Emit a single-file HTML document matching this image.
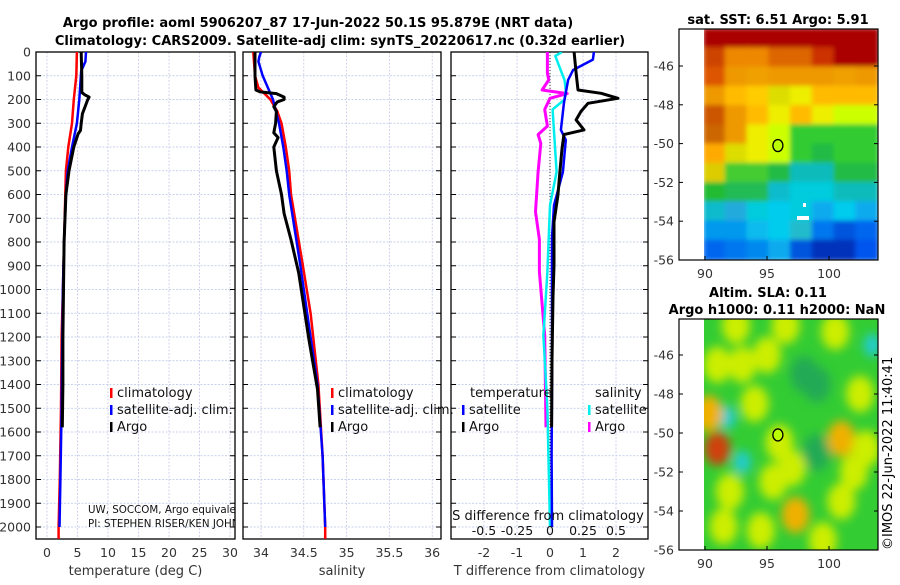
<!DOCTYPE html>
<html><head><meta charset="utf-8">
<style>
body{margin:0;background:#fff;width:900px;height:580px;overflow:hidden;font-family:"Liberation Sans","DejaVu Sans",sans-serif;}
svg text{font-family:"DejaVu Sans","Liberation Sans",sans-serif;}
</style></head>
<body>
<svg id="chart" width="900" height="580" viewBox="0 0 900 580" xmlns="http://www.w3.org/2000/svg">
<defs>
<filter id="blur2"><feGaussianBlur stdDeviation="2.5"/></filter>
<filter id="blur6"><feGaussianBlur stdDeviation="5"/></filter>
<clipPath id="c1"><rect x="36" y="52" width="199" height="487"/></clipPath>
<clipPath id="c2"><rect x="243" y="52" width="198" height="487"/></clipPath>
<clipPath id="c3"><rect x="451" y="52" width="197" height="487"/></clipPath>
<clipPath id="cm1"><rect x="704" y="29" width="174" height="231"/></clipPath>
<clipPath id="cm2"><rect x="704" y="319" width="174" height="231"/></clipPath>
<clipPath id="ctxt"><rect x="36" y="490" width="199" height="45"/></clipPath>
</defs>
<text x="318" y="27" font-size="13" font-weight="bold" text-anchor="middle">Argo profile: aoml 5906207_87 17-Jun-2022 50.1S 95.879E (NRT data)</text>
<text x="340" y="45" font-size="13" font-weight="bold" text-anchor="middle">Climatology: CARS2009. Satellite-adj clim: synTS_20220617.nc (0.32d earlier)</text>
<g id="panels"></g>
<g id="maps"></g>
<text transform="translate(892,550) rotate(-90)" font-size="13">©IMOS 22-Jun-2022 11:40:41</text>
</svg>
<script>
// ---- depth axis ----
const depthTicks = [0,100,200,300,400,500,600,700,800,900,1000,1100,1200,1300,1400,1500,1600,1700,1800,1900,2000];
// ---- temperature panel data ----
const tempTicks = [0,5,10,15,20,25,30];
const argoTempDepth = [0,100,170,180,190,205,220,260,300,330,345,400,500,600,800,1000,1200,1400,1580];
const argoTemp =      [5.6,5.7,5.7,6.2,6.9,6.6,6.4,5.8,5.6,5.5,5.1,4.4,3.6,3.1,2.8,2.7,2.6,2.6,2.5];
const climTempDepth = [0,100,200,300,400,500,600,800,1000,1200,1500,1800,2000,2050];
const climTemp =      [4.9,4.8,4.4,4.1,3.5,3.1,3.0,2.8,2.6,2.4,2.3,2.1,1.9,1.9];
const satTempDepth =  [0,40,80,200,300,400,500,600,800,1000,1200,1500,1800,2000];
const satTemp =       [6.4,6.3,5.6,5.3,4.9,4.1,3.4,3.1,2.8,2.6,2.5,2.4,2.2,2.05];
// ---- salinity panel data ----
const salTicks = [34,34.5,35,35.5,36];
const argoSalDepth = [0,100,160,168,175,190,200,210,230,250,300,340,360,400,500,600,680,790,930,1070,1210,1420,1580];
const argoSal =      [33.93,33.93,33.94,33.99,34.18,34.27,34.27,34.19,34.15,34.18,34.17,34.15,34.2,34.15,34.18,34.24,34.27,34.35,34.44,34.5,34.56,34.66,34.69];
const climSalDepth = [0,100,150,200,250,300,400,500,600,900,1100,1400,1700,2000,2050];
const climSal =      [33.91,33.93,33.97,34.11,34.19,34.24,34.29,34.33,34.35,34.49,34.58,34.67,34.72,34.75,34.75];
const satSalDepth =  [0,20,40,100,200,300,400,500,600,900,1200,1400,1700,2000];
const satSal =       [34.0,33.98,33.97,34.02,34.14,34.21,34.26,34.3,34.33,34.46,34.58,34.66,34.72,34.75];
// ---- difference panel data ----
const tDiffTicks = [-2,-1,0,1,2];
const sDiffTicks = [-0.5,-0.25,0,0.25,0.5];
const argoTDiffDepth = [0,88,160,174,195,216,250,286,328,348,412,505,604,716,900,1030,1300,1580];
const argoTDiff =      [0.73,0.79,0.85,1.55,2.06,1.15,0.94,0.79,1.03,0.42,0.36,0.3,0.24,0.12,0.12,0.09,0.06,0.05];
const satTDiffDepth =  [0,32,76,118,216,328,370,505,645,780,1030,1400,1700,2000];
const satTDiff =       [1.33,1.3,0.7,0.55,0.42,0.33,0.48,0.39,0.12,0.06,0.06,0.06,0.05,0.06];
const satSDiffDepth =  [0,17,118,160,200,242,505,645,926,1193,1500,2000];
const satSDiff =       [0.09,0.04,0.11,0.12,0.11,0.02,0.05,0.0,-0.02,-0.05,-0.02,0.0];
const argoSDiffDepth = [0,88,118,160,175,195,242,312,348,385,505,673,790,926,1193,1580];
const argoSDiff =      [-0.02,-0.02,-0.01,-0.06,0.13,0.0,-0.04,-0.02,-0.09,-0.07,-0.09,-0.11,-0.08,-0.08,-0.04,-0.03];

const NS='http://www.w3.org/2000/svg';
function mk(tag,attrs,parent){const e=document.createElementNS(NS,tag);for(const k in attrs)e.setAttribute(k,attrs[k]);parent.appendChild(e);return e;}
const yD = d => 52 + d*0.2375;
const xT = v => 47 + v*6.1;
const xS = v => 261 + (v-34)*85.6;
const xTD = v => 550 + v*33;
const xSD = v => 550 + v*132;
const P = document.getElementById('panels');

function panel(name,x0,w,clip,vticks,vfn,vlabels,xlabel){
  const g=mk('g',{},P);
  
  
  depthTicks.forEach(d=>{
    const l=mk('line',{x1:x0,x2:x0+w,y1:yD(d),y2:yD(d),stroke:'#b8c4e8','stroke-width':0.8,'stroke-dasharray':'2,1.5'},g);
    
    
  });
  vticks.forEach(v=>{
    const l=mk('line',{x1:vfn(v),x2:vfn(v),y1:52,y2:539,stroke:'#c8c8e8','stroke-width':0.8,'stroke-dasharray':'2,1.5'},g);
    
    
  });
  const f=mk('rect',{x:x0,y:52,width:w,height:487,fill:'none',stroke:'#000','stroke-width':1.3},g);
  
  
  depthTicks.forEach(d=>{
    mk('line',{x1:x0,x2:x0+5,y1:yD(d),y2:yD(d),stroke:'#000'},g);
    mk('line',{x1:x0+w-5,x2:x0+w,y1:yD(d),y2:yD(d),stroke:'#000'},g);
  });
  if(vlabels){
    vticks.forEach(v=>{
      const t=mk('text',{x:vfn(v),y:557,'font-size':12.5,'text-anchor':'middle',fill:'#333'},g);
      t.textContent=String(v);
      
      
    });
  }
  const t=mk('text',{x:x0+w/2,y:575,'font-size':13,'text-anchor':'middle',fill:'#333'},g);
  t.textContent=xlabel;
  
  
  return g;
}
function series(g,name,depths,vals,xfn,color,wd){
  const pts=depths.map((d,i)=>xfn(vals[i]).toFixed(1)+','+yD(d).toFixed(1)).join(' ');
  const l=mk('polyline',{points:pts,fill:'none',stroke:color,'stroke-width':wd,'stroke-linejoin':'round'},g);
  
  
}
function legend(g,x,y,color,label){
  const m=mk('rect',{x:x,y:y-9,width:2.5,height:10,fill:color},g);
  
  
  const t=mk('text',{x:x+7,y:y,'font-size':13,fill:'#111'},g);
  t.textContent=label;
  
  
}
depthTicks.forEach(d=>{
  const t=mk('text',{x:31,y:yD(d)+4.5,'font-size':12.5,'text-anchor':'end',fill:'#333'},P);
  t.textContent=String(d);
  
  
});
// panel 1
const g1=panel('temperature-panel',36,199,'c1',tempTicks,xT,true,'temperature (deg C)');
const s1=mk('g',{'clip-path':'url(#c1)'},g1);
series(s1,'temperature-climatology-line',climTempDepth,climTemp,xT,'#f00',2.5);
series(s1,'temperature-satellite-line',satTempDepth,satTemp,xT,'#00f',2.5);
series(s1,'temperature-argo-line',argoTempDepth,argoTemp,xT,'#000',3);
legend(g1,110,397,'#f00','climatology');
legend(g1,110,414,'#00f','satellite-adj. clim.');
legend(g1,110,431,'#000','Argo');
const tx=mk('g',{'clip-path':'url(#ctxt)'},g1);
const a1=mk('text',{x:88,y:513,'font-size':10.3,fill:'#111'},tx);a1.textContent='UW, SOCCOM, Argo equivalent';


const a2=mk('text',{x:88,y:527,'font-size':10.3,fill:'#111'},tx);a2.textContent='PI: STEPHEN RISER/KEN JOHNSON';


// panel 2
const g2=panel('salinity-panel',243,198,'c2',salTicks,xS,true,'salinity');
const s2=mk('g',{'clip-path':'url(#c2)'},g2);
series(s2,'salinity-climatology-line',climSalDepth,climSal,xS,'#f00',2.5);
series(s2,'salinity-satellite-line',satSalDepth,satSal,xS,'#00f',2.5);
series(s2,'salinity-argo-line',argoSalDepth,argoSal,xS,'#000',3);
legend(g2,331,397,'#f00','climatology');
legend(g2,331,414,'#00f','satellite-adj. clim.');
legend(g2,331,431,'#000','Argo');
// panel 3
const g3=panel('difference-panel',451,197,'c3',tDiffTicks,xTD,true,'T difference from climatology');
const s3=mk('g',{'clip-path':'url(#c3)'},g3);
mk('line',{x1:550,x2:550,y1:52,y2:yD(2000),stroke:'#333','stroke-width':1,'stroke-dasharray':'1,2'},s3);
series(s3,'s-diff-argo-line',argoSDiffDepth,argoSDiff,xSD,'#f0f',3);
series(s3,'s-diff-satellite-line',satSDiffDepth,satSDiff,xSD,'#0ee',2.5);
series(s3,'t-diff-satellite-line',satTDiffDepth,satTDiff,xTD,'#00f',2.5);
series(s3,'t-diff-argo-line',argoTDiffDepth,argoTDiff,xTD,'#000',3);
const lt=mk('text',{x:470,y:397,'font-size':13,fill:'#111'},g3);lt.textContent='temperature';


const ls=mk('text',{x:595,y:397,'font-size':13,fill:'#111'},g3);ls.textContent='salinity';


legend(g3,462,414,'#00f','satellite');
legend(g3,462,431,'#000','Argo');
legend(g3,588,414,'#0ee','satellite');
legend(g3,588,431,'#f0f','Argo');
const st=mk('text',{x:548,y:520,'font-size':13,'text-anchor':'middle',fill:'#111'},g3);st.textContent='S difference from climatology';


sDiffTicks.forEach(v=>{
  const t=mk('text',{x:xSD(v),y:535,'font-size':12.5,'text-anchor':'middle',fill:'#111'},g3);
  t.textContent=String(v);
  
  
});

// ---- maps ----
const sstGrid = [
 ['#a00','#a00','#a00','#a00','#a00','#a00','#a00','#a00'],
 ['#c40','#e80','#e80','#d60','#d60','#c30','#a00','#a00'],
 ['#d50','#e90','#f0a000','#e90','#e90','#e90','#f0a000','#e90'],
 ['#e90','#fb0','#fc0','#dd0','#ee0','#fb0','#fb0','#fb0'],
 ['#c50','#e90','#fb0','#ee0','#fb0','#ee0','#cf0','#cf0'],
 ['#c60','#e90','#ee0','#cf0','#3c3','#3c3','#3c3','#3c3'],
 ['#fa0','#dd0','#ee0','#cf0','#3c3','#2b4','#3c3','#3c3'],
 ['#dc0','#4c3','#4c3','#2b4','#1bb','#1bb','#2b4','#2b4'],
 ['#2b3','#2b5','#2b5','#1bc','#0cd','#0cd','#1bb','#1bb'],
 ['#1bc','#2ad','#0cd','#0ce','#0cd','#1ae','#0ce','#1ae'],
 ['#09e','#09e','#1be','#0ce','#2bc','#07e','#05d','#06e'],
 ['#06e','#07e','#08e','#1ae','#05d','#03b','#03b','#05e']
];
const slaLon = [91,91.8,93,103.5,99,92.5,94,101,97.3,101,91.5,96,95.5,98,93,90.3,92,96.5,100.5,102.5,99.5,94.5,97,102,95,99,103,91];
const slaLat = [-50.8,-49.2,-51.5,-45.5,-51,-44.5,-48.5,-50.3,-54.2,-53.5,-54.8,-50.5,-52.5,-47,-46.5,-49,-53,-44.5,-44.8,-48,-55.5,-55,-51.8,-52,-46,-47.5,-50.8,-46.5];
const slaVal = [0.3,-0.2,-0.2,-0.2,-0.15,0.1,0.1,0.2,0.2,0.15,0.15,0.1,0.1,-0.1,0.1,0.18,0.08,0.1,0.08,0.1,0.1,0.1,0.08,0.08,0.08,-0.08,0.1,0.08];
const mapLonTicks=[90,95,100];
const mapLatTicks=[-46,-48,-50,-52,-54,-56];
const argoLon=95.879, argoLat=-50.1;
const M=document.getElementById('maps');
const lonX = lo => 705 + (lo-90)*12.4;
function mapFrame(g,top,bottom,latY){
  const f=mk('rect',{x:679,y:top,width:199,height:bottom-top,fill:'none',stroke:'#000','stroke-width':1.2},g);
  
  
  mapLonTicks.forEach(lo=>{
    mk('line',{x1:lonX(lo),x2:lonX(lo),y1:bottom,y2:bottom-4,stroke:'#000'},g);
    const t=mk('text',{x:lonX(lo),y:bottom+18,'font-size':12.5,'text-anchor':'middle',fill:'#333'},g);
    t.textContent=String(lo);
    
    
  });
  mapLatTicks.forEach(la=>{
    mk('line',{x1:679,x2:683,y1:latY(la),y2:latY(la),stroke:'#000'},g);
    mk('line',{x1:874,x2:878,y1:latY(la),y2:latY(la),stroke:'#000'},g);
    const t=mk('text',{x:674,y:latY(la)+4.5,'font-size':12.5,'text-anchor':'end',fill:'#333'},g);
    t.textContent=String(la);
    
    
  });
  const c=mk('ellipse',{cx:lonX(argoLon),cy:latY(argoLat),rx:5,ry:6,fill:'#bf0',stroke:'#000','stroke-width':1.3},g);
  
  
}
{
  const g=mk('g',{},M);
  
  
  const top=29,bottom=260;
  const latY = la => bottom - (la+56)*19.4;
  const cg=mk('g',{'clip-path':'url(#cm1)'},g);
  const fg=mk('g',{filter:'url(#blur2)'},cg);
  const cw=174/8, ch=231/12;
  sstGrid.forEach((row,r)=>row.forEach((col,c)=>{
    const cell=mk('rect',{x:704+c*cw-1,y:top+r*ch-1,width:cw+2,height:ch+2,fill:col},fg);
    
    
  }));
  mk('rect',{x:797,y:216,width:12,height:4,fill:'#fff'},cg);
  mk('rect',{x:803,y:203,width:3,height:4,fill:'#fff'},cg);
  const t=mk('text',{x:778,y:24,'font-size':13,'font-weight':'bold','text-anchor':'middle'},g);
  t.textContent='sat. SST: 6.51 Argo: 5.91';
  
  
  mapFrame(g,top,bottom,latY);
}
{
  const g=mk('g',{},M);
  
  
  const top=319,bottom=550;
  const latY = la => bottom - (la+56)*19.5;
  const cg=mk('g',{'clip-path':'url(#cm2)'},g);
  mk('rect',{x:704,y:top,width:174,height:231,fill:'#3c3'},cg);
  const fg=mk('g',{filter:'url(#blur6)'},cg);
  slaLon.forEach((lo,i)=>{
    const v=slaVal[i];
    const col = v>=0.25?'#d04010': v>=0.18?'#f0b000': v>=0.05?'#ce0': v<=-0.18?'#2cc':'#2a5';
    const r=v>=0.25?13:(v<=-0.18?9:14);
    const e=mk('ellipse',{cx:lonX(lo),cy:latY(slaLat[i]),rx:r,ry:r*1.3,fill:col},fg);
    
    
  });
  const t1=mk('text',{x:768,y:297,'font-size':13,'font-weight':'bold','text-anchor':'middle'},g);
  t1.textContent='Altim. SLA: 0.11';
  
  
  const t2=mk('text',{x:777,y:314,'font-size':13,'font-weight':'bold','text-anchor':'middle'},g);
  t2.textContent='Argo h1000: 0.11 h2000: NaN';
  
  
  mapFrame(g,top,bottom,latY);
}
</script>
</body></html>
